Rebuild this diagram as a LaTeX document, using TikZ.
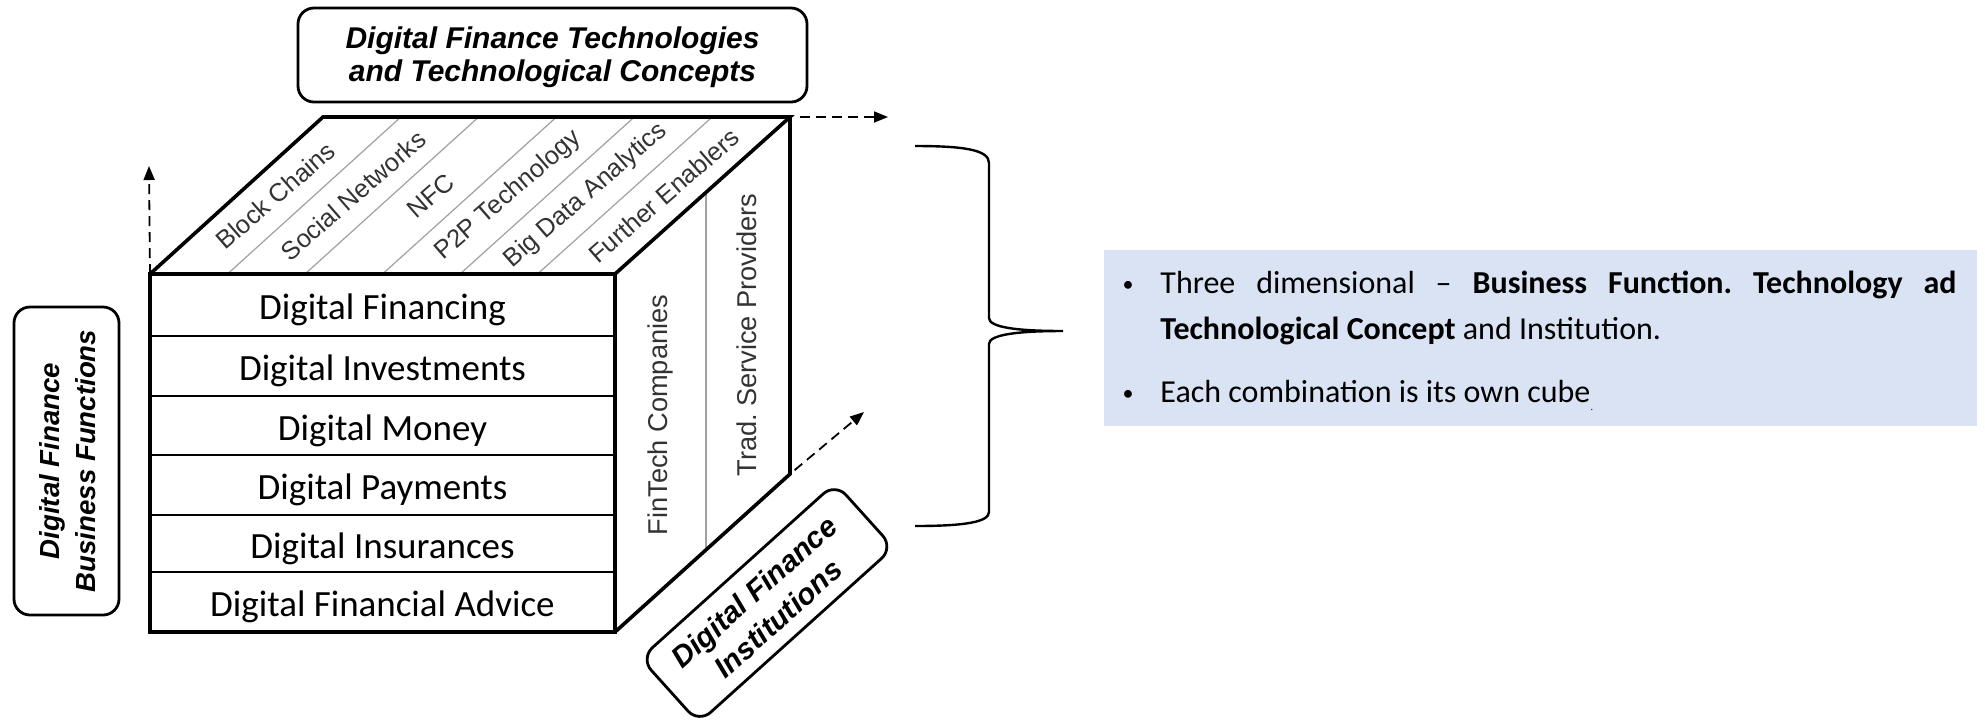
\documentclass[tikz,border=0pt]{standalone}
\usepackage{fontspec}
\setmainfont{Carlito}
\newfontfamily\arialfont{Liberation Sans}
\usetikzlibrary{arrows.meta,calc}
\definecolor{notefill}{HTML}{DAE3F3}
\definecolor{labelgray}{HTML}{333333}
\definecolor{divgray}{HTML}{A0A0A0}
\frenchspacing

\tikzset{
  cubeedge/.style={line width=1.8pt, line join=miter},
  rowline/.style={line width=1.1pt},
  divider/.style={draw=divgray, line width=0.6pt},
  rowtext/.style={font=\fontsize{18.5}{20}\selectfont, inner sep=0pt},
  facelabel/.style={font=\arialfont\fontsize{12.7}{14}\selectfont, text=labelgray, inner sep=0pt, rotate=41},
  sidelabel/.style={font=\arialfont\fontsize{13.6}{15}\selectfont, text=labelgray, inner sep=0pt, rotate=90},
  axisbox/.style={draw, line width=1.4pt, rounded corners=8pt, inner sep=0pt},
  axistext/.style 2 args={align=center, inner sep=0pt,
    font=\arialfont\bfseries\itshape\fontsize{#1}{#2}\selectfont},
  axisarrow/.style={line width=0.9pt, dash pattern=on 5pt off 3pt, -{Triangle[length=7pt,width=5.5pt]}},
  notetext/.style={font=\fontsize{16}{20}\selectfont, inner sep=0pt},
  bullet/.style={font=\fontsize{11}{12}\selectfont, inner sep=0pt},
  brace/.style={line width=1.2pt},
}

\begin{document}
\begin{tikzpicture}[x=0.5pt,y=-0.5pt]
\useasboundingbox (0,0) rectangle (1985,720);

% cube corners
\coordinate (A) at (150,274);
\coordinate (B) at (615,274);
\coordinate (C) at (615,632);
\coordinate (D) at (150,632);
\coordinate (E) at (323,117);
\coordinate (F) at (790,117);
\coordinate (G) at (790,474);

% top face: technology strips
\foreach \i in {1,...,5}
  \draw[divider] ($(A)!\i/6!(B)$) -- ($(E)!\i/6!(F)$);
\foreach \t [count=\i] in {Block Chains, Social Networks, NFC, P2P Technology, Big Data Analytics, Further Enablers}
  \node[facelabel] (tech\i) at ({236.5+77.67*(\i-0.5)},195.5) {\t};

% right face: institutions
\draw[divider] ($(B)!0.52!(F)$) -- ($(C)!0.52!(G)$);
\node[sidelabel] (fintech) at (660,415) {FinTech Companies};
\node[sidelabel] (trad) at (747,335) {Trad. Service Providers};

% front face: business functions
\foreach \y in {336,396,455,515,572}
  \draw[rowline] (150,\y) -- (615,\y);
\node[rowtext] (f1) at (382.5,310) {Digital Financing};
\node[rowtext] (f2) at (382.5,371) {Digital Investments};
\node[rowtext] (f3) at (382.5,430.5) {Digital Money};
\node[rowtext] (f4) at (382.5,490) {Digital Payments};
\node[rowtext] (f5) at (382.5,548.5) {Digital Insurances};
\node[rowtext] (f6) at (382.5,607) {Digital Financial Advice};

% cube outline
\draw[cubeedge] (A) rectangle (C);
\draw[cubeedge] (A) -- (E) -- (F) -- (B);
\draw[cubeedge] (F) -- (G) -- (C);

% axis arrows
\coordinate (upend) at (149,166);
\coordinate (rightend) at (888,117);
\coordinate (diagend) at (864,412);
\draw[axisarrow] (A) -- (upend);
\draw[axisarrow, shorten <=5pt] (F) -- (rightend);
\draw[axisarrow, shorten <=3pt] (G) -- (diagend);

% axis titles
\node[axisbox, minimum width=254.5pt, minimum height=47pt] (techaxis) at (552.5,55) {};
\node[axistext={15}{16.5}] (techtitle) at (552.5,57)
      {Digital Finance Technologies\\and Technological Concepts};
\node[axisbox, rotate=90, minimum width=154pt, minimum height=52.5pt] (funcaxis) at (66.5,461) {};
\node[axistext={13.8}{18}, rotate=90] (functitle) at (68,461)
      {Digital Finance\\Business Functions};
\node[axisbox, rotate=42, minimum width=131pt, minimum height=43.5pt] (instaxis) at (767,603) {};
\node[axistext={14.8}{18}, rotate=42] (insttitle) at (766,605)
      {Digital Finance\\Institutions};

% brace
\draw[brace] (915,146) .. controls (965,146) and (989,150) .. (989,163)
  -- (989,318) .. controls (989,327) and (1015,331) .. (1063,331)
  .. controls (1015,331) and (989,335) .. (989,344)
  -- (989,512) .. controls (989,522) and (965,526) .. (915,526);

% note panel
\node[fill=notefill, anchor=north west, minimum width=436.5pt, minimum height=88pt, inner sep=0pt] (note) at (1104,250) {};
\node[bullet, anchor=base] (b1) at (1128,291) {•};
\node[notetext, anchor=base west] (l1) at (1160,293)
  {\makebox[398pt][s]{Three dimensional – \textbf{Business Function. Technology ad}}};
\node[notetext, anchor=base west] (l2) at (1160,339)
  {\textbf{Technological Concept} and Institution.};
\node[bullet, anchor=base] (b2) at (1128,400) {•};
\node[notetext, anchor=base west] (l3) at (1160,402)
  {Each combination is its own cube\raisebox{-4pt}{\fontsize{5}{5}\selectfont .}};
\end{tikzpicture}
\end{document}
